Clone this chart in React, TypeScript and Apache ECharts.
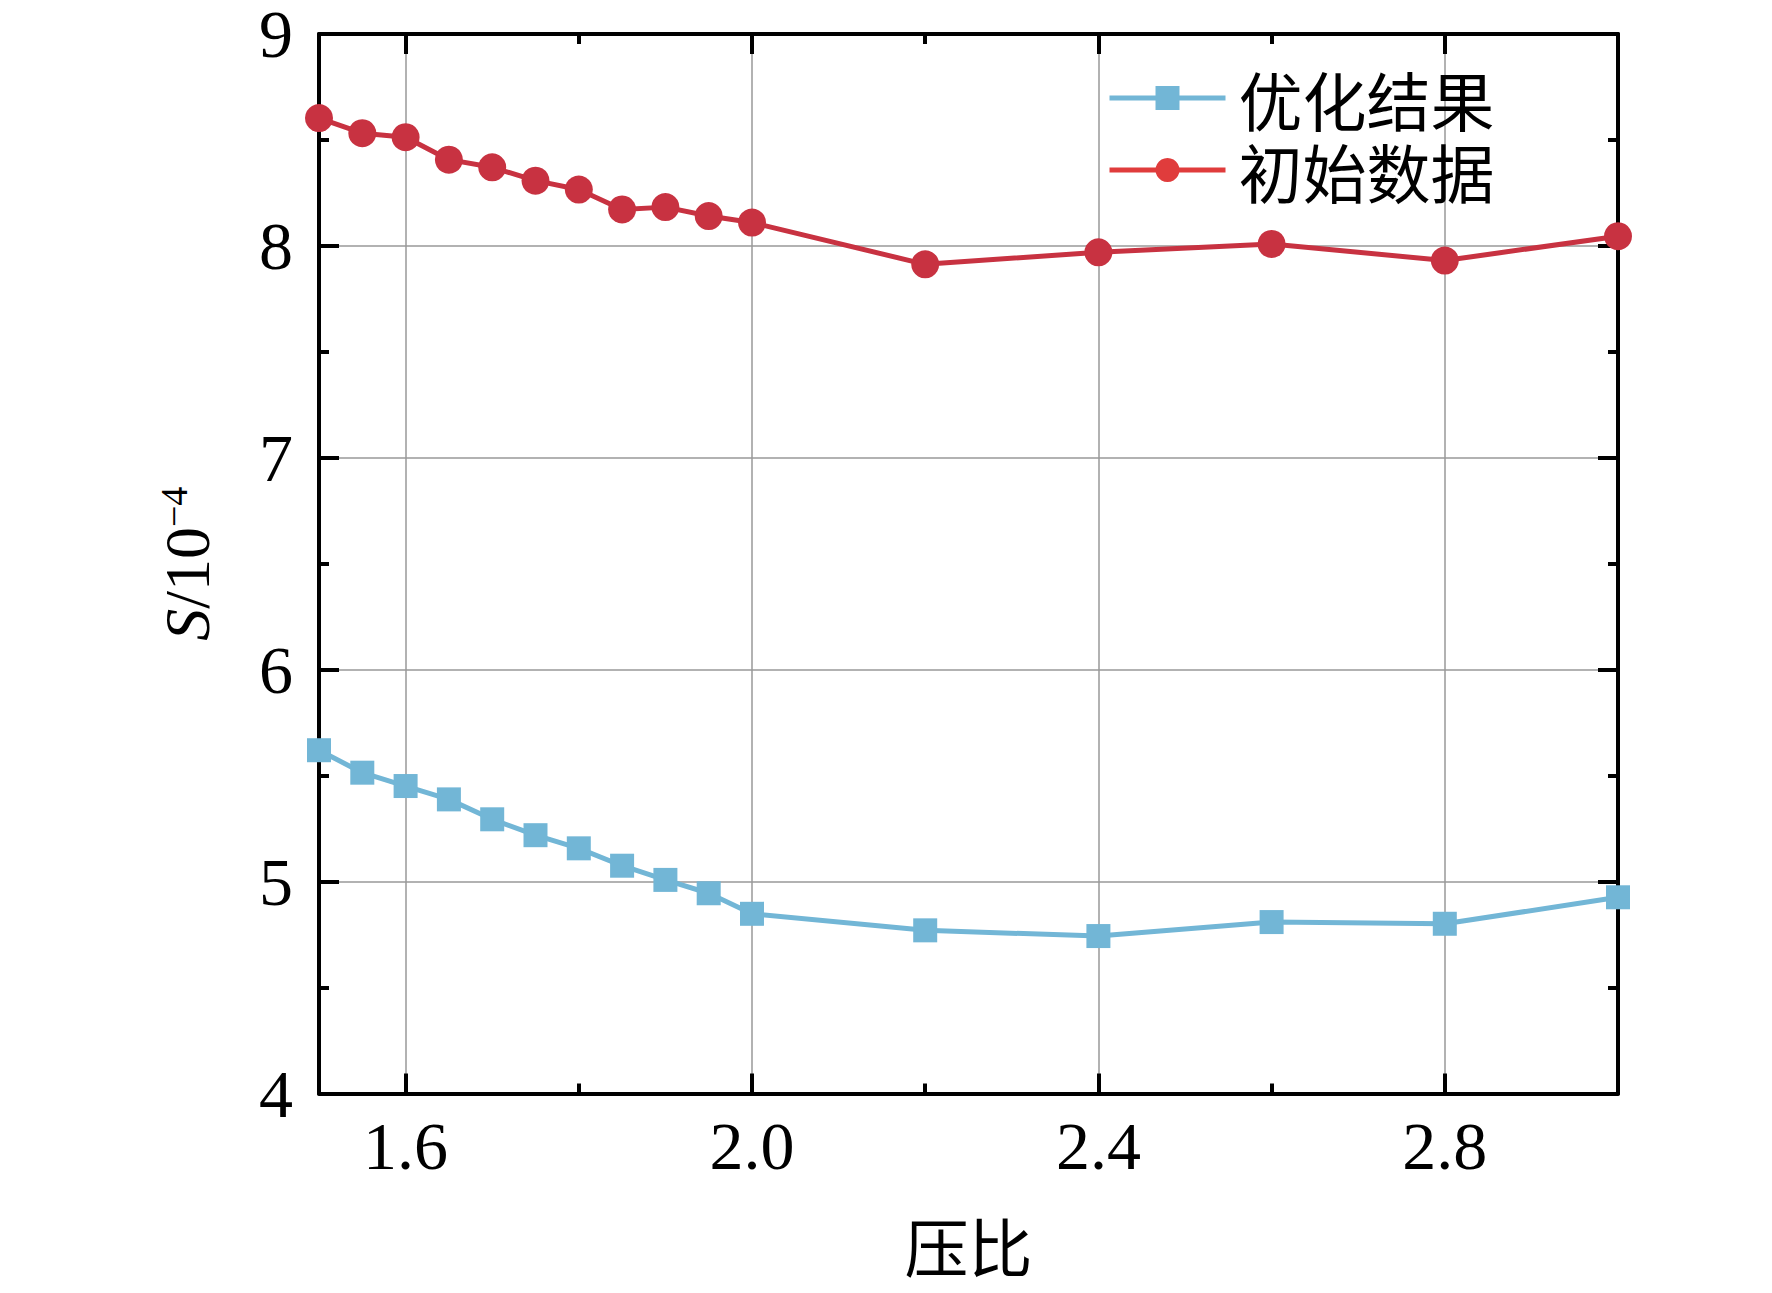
import React, { useEffect, useRef } from "react";
import * as echarts from "echarts";

const pressureRatio = [1.5, 1.55, 1.6, 1.65, 1.7, 1.75, 1.8, 1.85, 1.9, 1.95, 2.0, 2.2, 2.4, 2.6, 2.8, 3.0];
const optimized = [5.62, 5.514, 5.451, 5.388, 5.294, 5.219, 5.157, 5.075, 5.008, 4.945, 4.848, 4.77, 4.743, 4.809, 4.801, 4.926];
const initial = [8.603, 8.532, 8.513, 8.407, 8.371, 8.308, 8.266, 8.172, 8.183, 8.141, 8.11, 7.913, 7.97, 8.009, 7.931, 8.046];
const xMajorTicks = [1.6, 2.0, 2.4, 2.8];
const xMinorTicks = [1.8, 2.2, 2.6];
const seriesNames = ["优化结果", "初始数据"];

const SERIF = "Liberation Serif";
const CJK = "Noto Sans CJK SC";
const BLUE = "#72b6d6";
const RED = "#c83241";
const RED_LEGEND = "#e03c3c";

export default function App() {
  const ref = useRef<HTMLDivElement>(null);
  useEffect(() => {
    if (!ref.current) return;
    const chart = echarts.init(ref.current, undefined, { renderer: "svg" });
    const axisLine = { show: true, onZero: false, lineStyle: { color: "#000", width: 4 } };
    const baseX = { type: "value", min: 1.5, max: 3.0, gridIndex: 0 };
    const majorTick = (vals: number[]) => ({
      show: true,
      inside: true,
      length: 20,
      customValues: vals,
      lineStyle: { color: "#000", width: 4 },
    });
    const minorTickX = (vals: number[]) => ({
      show: true,
      inside: true,
      length: 10,
      customValues: vals,
      lineStyle: { color: "#000", width: 4 },
    });
    const option: any = {
      animation: false,
      backgroundColor: "#fff",
      grid: { left: 319, top: 30.5, width: 1299, height: 1063, containLabel: false },
      legend: {
        orient: "vertical",
        left: 1102,
        top: 61,
        itemWidth: 116,
        itemHeight: 30,
        itemGap: 8,
        textStyle: { fontFamily: CJK, fontSize: 64, color: "#000", lineHeight: 58, padding: [0, 0, 0, 8] },
        data: [
          { name: seriesNames[0], itemStyle: { color: BLUE }, lineStyle: { color: BLUE, width: 5 } },
          { name: seriesNames[1], itemStyle: { color: RED_LEGEND }, lineStyle: { color: RED_LEGEND, width: 5 } },
        ],
      },
      xAxis: [
        {
          ...baseX,
          position: "bottom",
          axisLine,
          axisTick: majorTick(xMajorTicks),
          axisLabel: {
            show: true,
            customValues: xMajorTicks,
            formatter: (v: number) => v.toFixed(1),
            fontFamily: SERIF,
            fontSize: 68,
            color: "#000",
            margin: 18,
          },
          splitLine: { show: true, lineStyle: { color: "#999", width: 1.5 } },
          name: "压比",
          nameLocation: "middle",
          nameGap: 118,
          nameTextStyle: { fontFamily: CJK, fontSize: 64, color: "#000" },
        },
        {
          ...baseX,
          position: "bottom",
          axisLine: { show: false, onZero: false },
          axisTick: minorTickX(xMinorTicks),
          axisLabel: { show: false },
          splitLine: { show: false },
        },
        {
          ...baseX,
          position: "top",
          axisLine,
          axisTick: majorTick(xMajorTicks),
          axisLabel: { show: false },
          splitLine: { show: false },
        },
        {
          ...baseX,
          position: "top",
          axisLine: { show: false, onZero: false },
          axisTick: minorTickX(xMinorTicks),
          axisLabel: { show: false },
          splitLine: { show: false },
        },
      ],
      yAxis: [
        {
          type: "value",
          min: 4,
          max: 9,
          interval: 1,
          position: "left",
          axisLine,
          axisTick: { show: true, inside: true, length: 20, lineStyle: { color: "#000", width: 4 } },
          minorTick: { show: true, splitNumber: 2, length: 10, lineStyle: { color: "#000", width: 4 } },
          axisLabel: { fontFamily: SERIF, fontSize: 68, color: "#000", margin: 26 },
          splitLine: { show: true, lineStyle: { color: "#999", width: 1.5 } },
          name: "{i|S}{n|/10}{s|−4}",
          nameLocation: "middle",
          nameRotate: 90,
          nameGap: 100,
          nameTextStyle: {
            fontFamily: SERIF,
            fontSize: 64,
            color: "#000",
            rich: {
              i: { fontFamily: SERIF, fontSize: 64, fontStyle: "italic", color: "#000" },
              n: { fontFamily: SERIF, fontSize: 64, color: "#000" },
              s: { fontFamily: SERIF, fontSize: 38, color: "#000", verticalAlign: "top", lineHeight: 38 },
            },
          },
        },
        {
          type: "value",
          min: 4,
          max: 9,
          interval: 1,
          position: "right",
          axisLine,
          axisTick: { show: true, inside: true, length: 20, lineStyle: { color: "#000", width: 4 } },
          minorTick: { show: true, splitNumber: 2, length: 10, lineStyle: { color: "#000", width: 4 } },
          axisLabel: { show: false },
          splitLine: { show: false },
        },
      ],
      series: [
        {
          name: seriesNames[0],
          type: "line",
          xAxisIndex: 0,
          yAxisIndex: 0,
          data: pressureRatio.map((x, i) => [x, optimized[i]]),
          symbol: "rect",
          symbolSize: 24,
          itemStyle: { color: BLUE },
          lineStyle: { color: BLUE, width: 5 },
          z: 3,
        },
        {
          name: seriesNames[1],
          type: "line",
          xAxisIndex: 0,
          yAxisIndex: 0,
          data: pressureRatio.map((x, i) => [x, initial[i]]),
          symbol: "circle",
          symbolSize: 28,
          itemStyle: { color: RED },
          lineStyle: { color: RED, width: 5 },
          z: 3,
        },
      ],
    };
    chart.setOption(option);
    return () => chart.dispose();
  }, []);
  return (
    <div
      ref={ref}
      style={{ position: "fixed", left: 0, top: 0, width: 1772, height: 1293, background: "#fff" }}
    />
  );
}
